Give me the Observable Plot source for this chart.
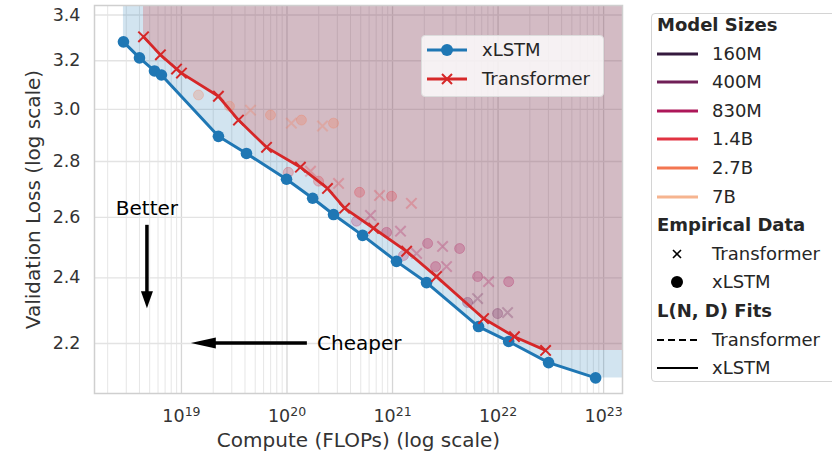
<!DOCTYPE html>
<html><head><meta charset="utf-8">
<script src="https://cdn.jsdelivr.net/npm/d3@7"></script>
<script src="https://cdn.jsdelivr.net/npm/@observablehq/plot@0.6"></script>
<style>
body{margin:0;background:#fff;font-family:"DejaVu Sans",sans-serif;color:#262626;}
#wrap{position:relative;width:832px;height:459px;overflow:hidden;}
#chart{position:absolute;left:0;top:0;}
.box{position:absolute;border:1px solid #d4d4d4;border-radius:4px;box-sizing:border-box;}
.row{position:absolute;height:24px;line-height:24px;font-size:18px;white-space:nowrap;}
.row svg{position:absolute;top:0;}
.ttl{font-weight:bold;}
</style></head>
<body><div id="wrap"><div id="chart"></div></div>
<script>
// ---- data ----
const xlstmFlops = [2.82e18, 4.0e18, 5.55e18, 6.46e18, 2.24e19, 4.13e19, 9.9e19, 1.75e20, 2.76e20, 5.2e20, 1.09e21, 2.10e21, 6.53e21, 1.26e22, 3.01e22, 8.4e22];
const xlstmLoss  = [3.281, 3.212, 3.157, 3.140, 2.895, 2.830, 2.735, 2.667, 2.610, 2.539, 2.453, 2.385, 2.250, 2.206, 2.145, 2.102];
const trFlops = [4.37e18, 6.32e18, 8.98e18, 1.0e19, 2.24e19, 3.47e19, 6.40e19, 1.34e20, 2.42e20, 3.51e20, 6.61e20, 1.36e21, 2.61e21, 7.29e21, 1.43e22, 2.82e22];
const trLoss  = [3.303, 3.225, 3.165, 3.148, 3.053, 2.958, 2.853, 2.779, 2.702, 2.632, 2.563, 2.486, 2.404, 2.274, 2.220, 2.180];

const empXlstmFlops = [1.45e19, 2.85e19, 6.98e19, 1.37e20, 2.76e20, 1.03e20, 1.99e20, 4.87e20, 9.79e20, 4.56e20, 8.78e20, 2.15e21, 4.32e21, 1.27e21, 2.56e21, 6.40e21, 1.26e22, 5.14e21, 9.89e21];
const empXlstmLoss  = [3.058, 3.013, 2.978, 2.958, 2.946, 2.760, 2.728, 2.688, 2.674, 2.587, 2.549, 2.512, 2.495, 2.472, 2.436, 2.404, 2.388, 2.323, 2.289];
const empXlstmSize  = ["2.7B","2.7B","2.7B","2.7B","2.7B","1.4B","1.4B","1.4B","1.4B","830M","830M","830M","830M","830M","830M","830M","830M","400M","400M"];
const empTrFlops = [4.51e19, 1.10e20, 2.17e20, 1.67e20, 3.08e20, 7.53e20, 1.51e21, 6.18e20, 1.19e21, 2.98e21, 1.69e21, 3.25e21, 8.13e21, 6.40e21, 1.23e22];
const empTrLoss  = [2.997, 2.946, 2.935, 2.764, 2.720, 2.677, 2.649, 2.607, 2.553, 2.502, 2.479, 2.436, 2.388, 2.335, 2.292];
const empTrSize  = ["2.7B","2.7B","2.7B","1.4B","1.4B","1.4B","1.4B","830M","830M","830M","830M","830M","830M","400M","400M"];

const modelSizes  = ["160M","400M","830M","1.4B","2.7B","7B"];
const sizeColors  = ["#35193e","#701f57","#ad1759","#e13342","#f37651","#f6b48f"];

const xTickValues = [1e19, 1e20, 1e21, 1e22, 1e23];
const yTickValues = [2.2, 2.4, 2.6, 2.8, 3.0, 3.2, 3.4];
const xDomain = [1.5e18, 1.51e23];
const yDomain = [2.059, 3.443];

// annotations (data units)
const betterX = 4.76e18, betterYFrom = 2.573, betterYTo = 2.304, betterTextY = 2.632;
const cheaperY = 2.2, cheaperXFrom = 1.56e20, cheaperXTo = 1.24e19, cheaperTextX = 1.95e20;

// ---- build ----
const blue = "#1f77b4", red = "#d62728";
const xlstm = xlstmFlops.map((x, i) => ({x, y: xlstmLoss[i]}));
const tr = trFlops.map((x, i) => ({x, y: trLoss[i]}));
const xlstmFill = [...xlstm, {x: xDomain[1], y: xlstm[xlstm.length - 1].y}];
const trFill = [...tr, {x: xDomain[1], y: tr[tr.length - 1].y}];
const empX = empXlstmFlops.map((x, i) => ({x, y: empXlstmLoss[i], s: empXlstmSize[i]}));
const empT = empTrFlops.map((x, i) => ({x, y: empTrLoss[i], s: empTrSize[i]}));
const minorTicks = [];
for (let k = 18; k <= 23; k++) for (let m = 2; m <= 9; m++) {
  const v = m * 10 ** k; if (v > xDomain[0] && v < xDomain[1]) minorTicks.push(v);
}
const supMap = {"0":"⁰","1":"¹","2":"²","3":"³","4":"⁴","5":"⁵","6":"⁶","7":"⁷","8":"⁸","9":"⁹"};
const supFmt = v => "10" + String(Math.round(Math.log10(v))).split("").map(c => supMap[c]).join("");
const sizeColor = s => sizeColors[modelSizes.indexOf(s)];

function annotations(index, scales) {
  const g = d3.create("svg:g").attr("text-anchor", "start");
  const sx = scales.x, sy = scales.y;
  const bx = sx(betterX), by0 = sy(betterYFrom), by1 = sy(betterYTo);
  g.append("line").attr("x1", bx).attr("x2", bx).attr("y1", by0).attr("y2", by1 - 15)
    .attr("stroke", "#000").attr("stroke-width", 3.5);
  g.append("path").attr("d", `M${bx - 6},${by1 - 17}L${bx + 6},${by1 - 17}L${bx},${by1}Z`).attr("fill", "#000");
  g.append("text").attr("x", bx).attr("y", sy(betterTextY)).attr("text-anchor", "middle")
    .attr("dy", "0.35em").attr("font-size", 20).attr("fill", "#000").text("Better");
  const cy = sy(cheaperY), cx0 = sx(cheaperXFrom), cx1 = sx(cheaperXTo);
  g.append("line").attr("x1", cx0).attr("x2", cx1 + 22).attr("y1", cy).attr("y2", cy)
    .attr("stroke", "#000").attr("stroke-width", 3.5);
  g.append("path").attr("d", `M${cx1 + 25},${cy - 5.5}L${cx1 + 25},${cy + 5.5}L${cx1},${cy}Z`).attr("fill", "#000");
  g.append("text").attr("x", sx(cheaperTextX)).attr("y", cy).attr("dy", "0.35em").attr("text-anchor", "start")
    .attr("font-size", 20).attr("fill", "#000").text("Cheaper");
  return g.node();
}

const chart = Plot.plot({
  width: 640, height: 459,
  marginLeft: 94, marginRight: 18, marginTop: 5, marginBottom: 66,
  style: {fontFamily: "DejaVu Sans", color: "#333", background: "transparent"},
  x: {type: "log", domain: xDomain},
  y: {type: "log", domain: yDomain},
  marks: [
    Plot.ruleX(minorTicks, {stroke: "#e6e6e6", strokeWidth: 1}),
    Plot.ruleX(xTickValues, {stroke: "#d6d6d6", strokeWidth: 1.3}),
    Plot.ruleY(yTickValues, {stroke: "#e3e3e3", strokeWidth: 1.3}),
    Plot.areaY(xlstmFill, {x: "x", y1: "y", y2: yDomain[1], fill: blue, fillOpacity: 0.2}),
    Plot.areaY(trFill, {x: "x", y1: "y", y2: yDomain[1], fill: red, fillOpacity: 0.22}),
    Plot.dot(empX, {x: "x", y: "y", r: 5, fill: d => sizeColor(d.s), fillOpacity: 0.26, stroke: d => sizeColor(d.s), strokeOpacity: 0.26, strokeWidth: 1}),
    Plot.dot(empT, {x: "x", y: "y", r: 4.8, symbol: "times", stroke: d => sizeColor(d.s), strokeOpacity: 0.28, strokeWidth: 2}),
    Plot.line(xlstm, {x: "x", y: "y", stroke: blue, strokeWidth: 3}),
    Plot.dot(xlstm, {x: "x", y: "y", r: 5.8, fill: blue}),
    Plot.line(tr, {x: "x", y: "y", stroke: red, strokeWidth: 2.8}),
    Plot.dot(tr, {x: "x", y: "y", r: 4.8, symbol: "times", stroke: red, strokeWidth: 2}),
    Plot.frame({stroke: "#cfcfcf", strokeWidth: 1.5}),
    Plot.axisX({ticks: xTickValues, tickFormat: supFmt, tickSize: 0, tickPadding: 16, fontSize: 17.5, label: null}),
    Plot.axisY({ticks: yTickValues, tickFormat: d => d.toFixed(1), tickSize: 0, tickPadding: 14, fontSize: 17.5, label: null}),
    Plot.text(["Compute (FLOPs) (log scale)"], {frameAnchor: "bottom", dy: 47, fontSize: 20, textAnchor: "middle", lineAnchor: "middle", fill: "#333"}),
    Plot.text(["Validation Loss (log scale)"], {frameAnchor: "left", dx: -61, rotate: -90, fontSize: 20, textAnchor: "middle", lineAnchor: "middle", fill: "#333"}),
    annotations
  ]
});
document.getElementById("chart").appendChild(chart);

// turn unicode superscripts of the x tick labels into real raised text
const unsup = Object.fromEntries(Object.entries(supMap).map(([k, v]) => [v, k]));
d3.select(chart).selectAll('g[aria-label="x-axis tick label"] text').each(function () {
  const t = this.textContent;
  if (!t.startsWith("10")) return;
  const exp = t.slice(2).split("").map(c => unsup[c] ?? c).join("");
  const el = d3.select(this);
  el.text(null);
  el.append("tspan").text("10");
  el.append("tspan").attr("dy", "-0.45em").attr("font-size", "12.5px").text(exp);
});

// ---- legends (HTML overlays) ----
const wrap = document.getElementById("wrap");
function add(html) { wrap.insertAdjacentHTML("beforeend", html); }

// in-plot legend
add(`<div class="box" style="left:421px;top:35px;width:183px;height:62px;background:rgba(255,255,255,0.8);border-color:#dcdcdc"></div>`);
const innerLegend = [
  {label: "xLSTM", color: blue, mark: "circle", y: 50},
  {label: "Transformer", color: red, mark: "times", y: 79}
];
for (const e of innerLegend) {
  const m = e.mark === "circle"
    ? `<circle cx="20" cy="12" r="6" fill="${e.color}"/>`
    : `<path d="M15,7L25,17M15,17L25,7" stroke="${e.color}" stroke-width="2"/>`;
  add(`<div class="row" style="left:427px;top:${e.y - 12}px;width:180px">
    <svg width="42" height="24" style="left:0"><line x1="0" x2="40" y1="12" y2="12" stroke="${e.color}" stroke-width="3"/>${m}</svg>
    <span style="position:absolute;left:55px;color:#262626">${e.label}</span></div>`);
}

// right legend
add(`<div class="box" style="left:651px;top:13px;width:200px;height:369px;background:#fff"></div>`);
const rows = [];
rows.push({title: "Model Sizes"});
modelSizes.forEach((s, i) => rows.push({label: s, sym: `<line x1="0" x2="41" y1="12" y2="12" stroke="${sizeColors[i]}" stroke-width="3"/>`}));
rows.push({title: "Empirical Data"});
rows.push({label: "Transformer", sym: `<path d="M16,8L24,16M16,16L24,8" stroke="#000" stroke-width="1.6"/>`});
rows.push({label: "xLSTM", sym: `<circle cx="20" cy="12" r="6" fill="#000"/>`});
rows.push({title: "L(N, D) Fits"});
rows.push({label: "Transformer", sym: `<line x1="0" x2="41" y1="12" y2="12" stroke="#000" stroke-width="2" stroke-dasharray="7,4"/>`});
rows.push({label: "xLSTM", sym: `<line x1="0" x2="41" y1="12" y2="12" stroke="#000" stroke-width="2"/>`});
rows.forEach((r, i) => {
  const y = 25 + i * 28.6;
  if (r.title) add(`<div class="row ttl" style="left:657px;top:${y - 12}px">${r.title}</div>`);
  else add(`<div class="row" style="left:657px;top:${y - 12}px;width:180px"><svg width="42" height="24" style="left:0">${r.sym}</svg><span style="position:absolute;left:55px">${r.label}</span></div>`);
});
</script></body></html>
